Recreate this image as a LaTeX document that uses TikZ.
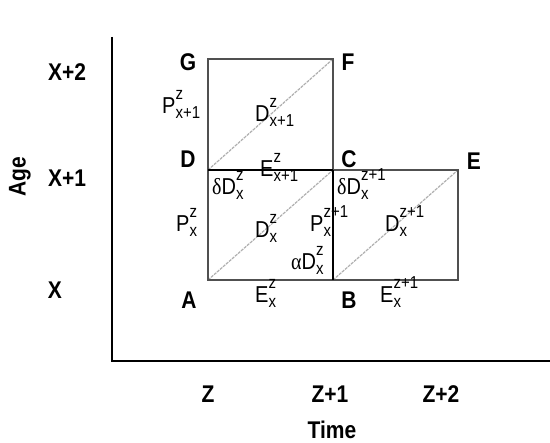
\documentclass[tikz,border=0pt]{standalone}
\usepackage{fontspec}
\setmainfont{Liberation Sans}
\newfontfamily\greekfont{Liberation Serif}
\usepackage{graphicx}
\usepackage{xcolor}
\usetikzlibrary{positioning}
\definecolor{boxgray}{RGB}{80,80,80}
\definecolor{diaggray}{RGB}{175,175,175}
% text is a little taller than wide in the figure
\newcommand{\tall}[1]{\scalebox{1}[1.15]{#1}}
% letter with stacked super- and subscript
\newcommand{\cohort}[3]{#1\raisebox{-4pt}{\fontsize{15}{17}\selectfont\begin{tabular}[b]{@{}l@{}}#2\\#3\end{tabular}}}

\begin{document}
\begin{tikzpicture}[x=1pt, y=-1pt,
    axis/.style={line width=2.6pt, black},
    cell/.style={line width=1.5pt, boxgray},
    edge/.style={line width=2.6pt, black},
    diag/.style={line width=1.2pt, diaggray, dash pattern=on 3pt off 1pt},
    corner/.style={font=\fontsize{21}{24}\selectfont\bfseries, inner sep=0pt},
    lbl/.style={font=\fontsize{20}{24}\selectfont, inner sep=0pt, anchor=base west}]
  \useasboundingbox (0,0) rectangle (550,443);
  % Lexis grid
  \coordinate (A) at (208,280);
  \coordinate (B) at (333,280);
  \coordinate (C) at (333,170);
  \coordinate (D) at (208,170);
  \coordinate (G) at (208,59);
  \coordinate (F) at (333,59);
  \coordinate (E) at (458,170);
  \coordinate (BE) at (458,280);
  \coordinate (ytop) at (112,37);
  \coordinate (xend) at (550,361);
  \draw[axis] (ytop) |- (xend);
  \draw[diag] (A) -- (C);
  \draw[diag] (D) -- (F);
  \draw[diag] (B) -- (E);
  \draw[cell] (A) -- (B) -- (BE) -- (E) -- (C) -- (F) -- (G) -- (D) -- cycle;
  \draw[edge] (D) -- (C);
  \draw[edge] (B) -- (C);
  % corner letters
  \node[corner] (nA) at (189,300) {\tall{A}};
  \node[corner] (nB) at (349,300) {\tall{B}};
  \node[corner] (nC) at (349,159) {\tall{C}};
  \node[corner] (nD) at (188,159) {\tall{D}};
  \node[corner] (nE) at (474,161) {\tall{E}};
  \node[corner] (nF) at (348,62) {\tall{F}};
  \node[corner] (nG) at (188,62) {\tall{G}};
  % cell labels
  \node[lbl] (p1) at (162,114) {\tall{\cohort{P}{z}{x+1}}};
  \node[lbl] (d1) at (255,122) {\tall{\cohort{D}{z}{x+1}}};
  \node[lbl] (e1) at (260,177) {\tall{\cohort{E}{z}{x+1}}};
  \node[lbl] (dd0) at (212,195) {\tall{{\greekfont δ}\cohort{D}{z}{x}}};
  \node[lbl] (p0) at (176,232) {\tall{\cohort{P}{z}{x}}};
  \node[lbl] (d0) at (255,238) {\tall{\cohort{D}{z}{x}}};
  \node[lbl] (p2) at (310,232) {\tall{\cohort{P}{z+1}{x}}};
  \node[lbl] (ad0) at (291,270) {\tall{{\greekfont α}\cohort{D}{z}{x}}};
  \node[lbl] (e0) at (255,303) {\tall{\cohort{E}{z}{x}}};
  \node[lbl] (dd2) at (337,195) {\tall{{\greekfont δ}\cohort{D}{z+1}{x}}};
  \node[lbl] (d2) at (385,232) {\tall{\cohort{D}{z+1}{x}}};
  \node[lbl] (e2) at (380,303) {\tall{\cohort{E}{z+1}{x}}};
  % axis ticks and titles
  \node[corner] (x2) at (67,72) {\tall{X+2}};
  \node[corner] (x1) at (67,178) {\tall{X+1}};
  \node[corner] (x0) at (55,290) {\tall{X}};
  \node[corner, rotate=90] (age) at (20,177) {\tall{Age}};
  \node[corner] (z0) at (208,394) {\tall{Z}};
  \node[corner] (z1) at (330,394) {\tall{Z+1}};
  \node[corner] (z2) at (441,394) {\tall{Z+2}};
  \node[corner] (time) at (332,430) {\tall{Time}};
\end{tikzpicture}
\end{document}
